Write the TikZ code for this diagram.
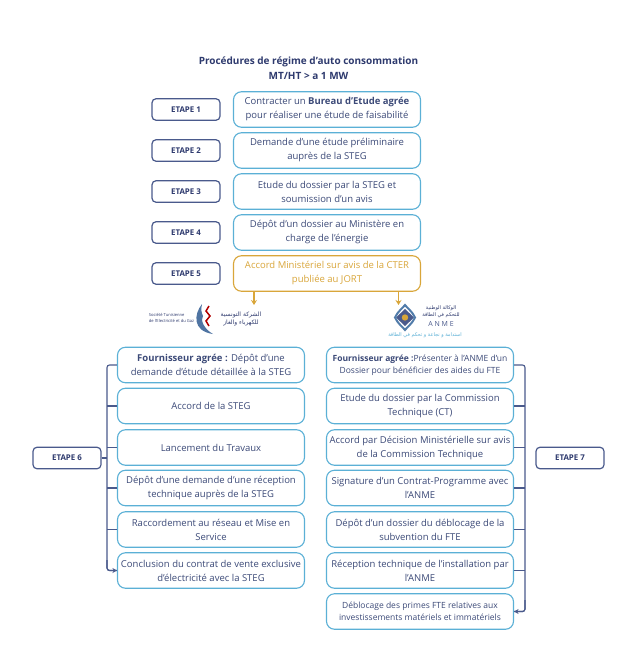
\documentclass[tikz,border=0pt]{standalone}
\usepackage{fontspec}
\setmainfont{Open Sans}
\newfontfamily\arabicfont[Script=Arabic]{DejaVu Sans}
\TeXXeTstate=1
\usetikzlibrary{arrows.meta}
\definecolor{navy}{HTML}{2E3A6E}
\definecolor{sky}{HTML}{5BB0D6}
\definecolor{gold}{HTML}{D9A63A}
\definecolor{stepline}{HTML}{4A5A8C}
\definecolor{txt}{HTML}{3C4A78}
\tikzset{x=1pt,y=-1pt,
 etape/.style={draw=stepline,line width=1.2pt,rounded corners=4pt,minimum width=68pt,minimum height=21.5pt,inner sep=0pt,text=navy,font=\fontsize{7.9}{9}\selectfont\bfseries},
 box/.style={draw=sky,line width=1.1pt,rounded corners=8pt,minimum width=187pt,minimum height=35.5pt,inner sep=0pt,align=center,text=txt,font=\fontsize{9.5}{14}\selectfont},
 smallbox/.style={box,font=\fontsize{8.5}{11.6}\selectfont},
 goldbox/.style={box,draw=gold,text=gold},
 link/.style={draw=stepline,line width=1.1pt,rounded corners=2.5pt},
 linkarrow/.style={link,-{Stealth[length=4.5pt,width=5pt]}},
 goldarrow/.style={draw=gold,line width=1.1pt,-{Stealth[length=5pt,width=6pt]}}}
\begin{document}
\begin{tikzpicture}
\useasboundingbox (0,0) rectangle (637,671);
\fill[white] (0,0) rectangle (637,671);
\node[align=center,text=navy,font=\fontsize{10}{15}\selectfont\bfseries] (title) at (308.5,68) {Procédures de régime d’auto consommation\\MT/HT > a 1 MW};
\foreach \n/\y in {1/109.5,2/150.5,3/191.5,4/232.5,5/273.5}
  \node[etape] (e\n) at (186,\y) {ETAPE \n};
\node[box] (s1) at (327,109.5) {Contracter un \textbf{Bureau d’Etude agrée}\\pour réaliser une étude de faisabilité};
\node[box] (s2) at (327,150.5) {Demande d’une étude préliminaire\\auprès de la STEG};
\node[box] (s3) at (327,191.5) {Etude du dossier par la STEG et\\soumission d’un avis};
\node[box] (s4) at (327,232.5) {Dépôt d’un dossier au Ministère en\\charge de l’énergie};
\node[goldbox] (s5) at (327,273.5) {Accord Ministériel sur avis de la CTER\\publiée au JORT};
\coordinate (la) at (254,305);
\coordinate (lb) at (398.5,305);
\draw[goldarrow] (s5.south -| la) -- (la);
\draw[goldarrow] (s5.south -| lb) -- (lb);
% STEG logo
\node[text=navy,align=left,inner sep=0pt,font=\fontsize{4.1}{5.4}\selectfont] (steglat) at (171.5,318) {Société Tunisienne\\de l'Electricité et du Gaz};
\fill[stepline!70!sky] (202,304) .. controls (194,314) and (192,331) .. (213,334) .. controls (204,329) and (200,320) .. (203,316) .. controls (201,312) and (201,309) .. (202,304) -- cycle;
\draw[red!70!black,line width=1.5pt] (209,306) -- (206,311) -- (210,316) -- (206,321) -- (209,326);
\node[text=navy,inner sep=0pt,font=\arabicfont\fontsize{6}{7.6}\selectfont,align=center] (stegar) at (241,319) {\beginR الشركة التونسية\endR\\\beginR للكهرباء والغاز\endR};
% ANME logo
\fill[stepline] (405,309) -- (414,317.5) -- (405,326) -- (396,317.5) -- cycle;
\draw[stepline!60!sky,line width=2pt] (395,317.5) .. controls (398,311) and (402,309) .. (405,305) .. controls (408,309) and (412,311) .. (415,317.5) .. controls (412,324) and (408,326) .. (405,330) .. controls (402,326) and (398,324) .. (395,317.5) -- cycle;
\fill[gold] (405,317.5) circle (3.2pt);
\node[text=stepline,inner sep=0pt,font=\fontsize{7}{8}\selectfont] (anme) at (441,323.5) {A N M E};
\node[text=navy,inner sep=0pt,font=\arabicfont\fontsize{5}{6.6}\selectfont,align=center] (anmear) at (441,312) {\beginR الوكالة الوطنية\endR\\\beginR للتحكم في الطاقة\endR};
\node[text=sky,inner sep=0pt,font=\arabicfont\fontsize{5}{6}\selectfont] (anmeb) at (425,335) {\beginR استدامة و نجاعة و تحكم في الطاقة\endR};
% Left column
\node[box] (a1) at (211,365) {\textbf{Fournisseur agrée :} Dépôt d’une\\demande d’étude détaillée à la STEG};
\node[box] (a2) at (211,406) {Accord de la STEG};
\node[box] (a3) at (211,447.5) {Lancement du Travaux};
\node[box] (a4) at (211,488) {Dépôt d’une demande d’une réception\\technique auprès de la STEG};
\node[box] (a5) at (211,529.5) {Raccordement au réseau et Mise en\\Service};
\node[box] (a6) at (211,570.5) {Conclusion du contrat de vente exclusive\\d’électricité avec la STEG};
\node[smallbox] (b1) at (420,365) {\textbf{Fournisseur agrée :}Présenter à l’ANME d’un\\Dossier pour bénéficier des aides du FTE};
\node[box] (b2) at (420,406) {Etude du dossier par la Commission\\Technique (CT)};
\node[box] (b3) at (420,447.5) {Accord par Décision Ministérielle sur avis\\de la Commission Technique};
\node[box] (b4) at (420,488) {Signature d’un Contrat-Programme avec\\l’ANME};
\node[box] (b5) at (420,529.5) {Dépôt d’un dossier du déblocage de la\\subvention du FTE};
\node[box] (b6) at (420,570.5) {Réception technique de l’installation par\\l’ANME};
\node[smallbox] (b7) at (420,611.5) {Déblocage des primes FTE relatives aux\\investissements matériels et immatériels};
\node[etape] (e6) at (67,458) {ETAPE 6};
\node[etape] (e7) at (570,458) {ETAPE 7};
% Left bracket
\coordinate (lt) at (107,365);
\coordinate (lb2) at (107,570.5);
\draw[link] (a1.west) -- (lt) -- (lb2) -- (a6.west);
\draw[linkarrow] (107,560) |- (a6.west);
\draw[link] (e6.east) -- (107,458);
\foreach \n in {2,3,4,5}
  \draw[link] (107,0 |- a\n.west) -- (a\n.west);
% Right bracket
\coordinate (rt) at (525,365);
\coordinate (rb) at (525,611.5);
\draw[link] (b1.east) -- (rt) -- (rb) -- (b7.east);
\draw[linkarrow] (525,600) |- (b7.east);
\foreach \n in {2,3,4,5,6}
  \draw[link] (525,0 |- b\n.east) -- (b\n.east);
\end{tikzpicture}
\end{document}
